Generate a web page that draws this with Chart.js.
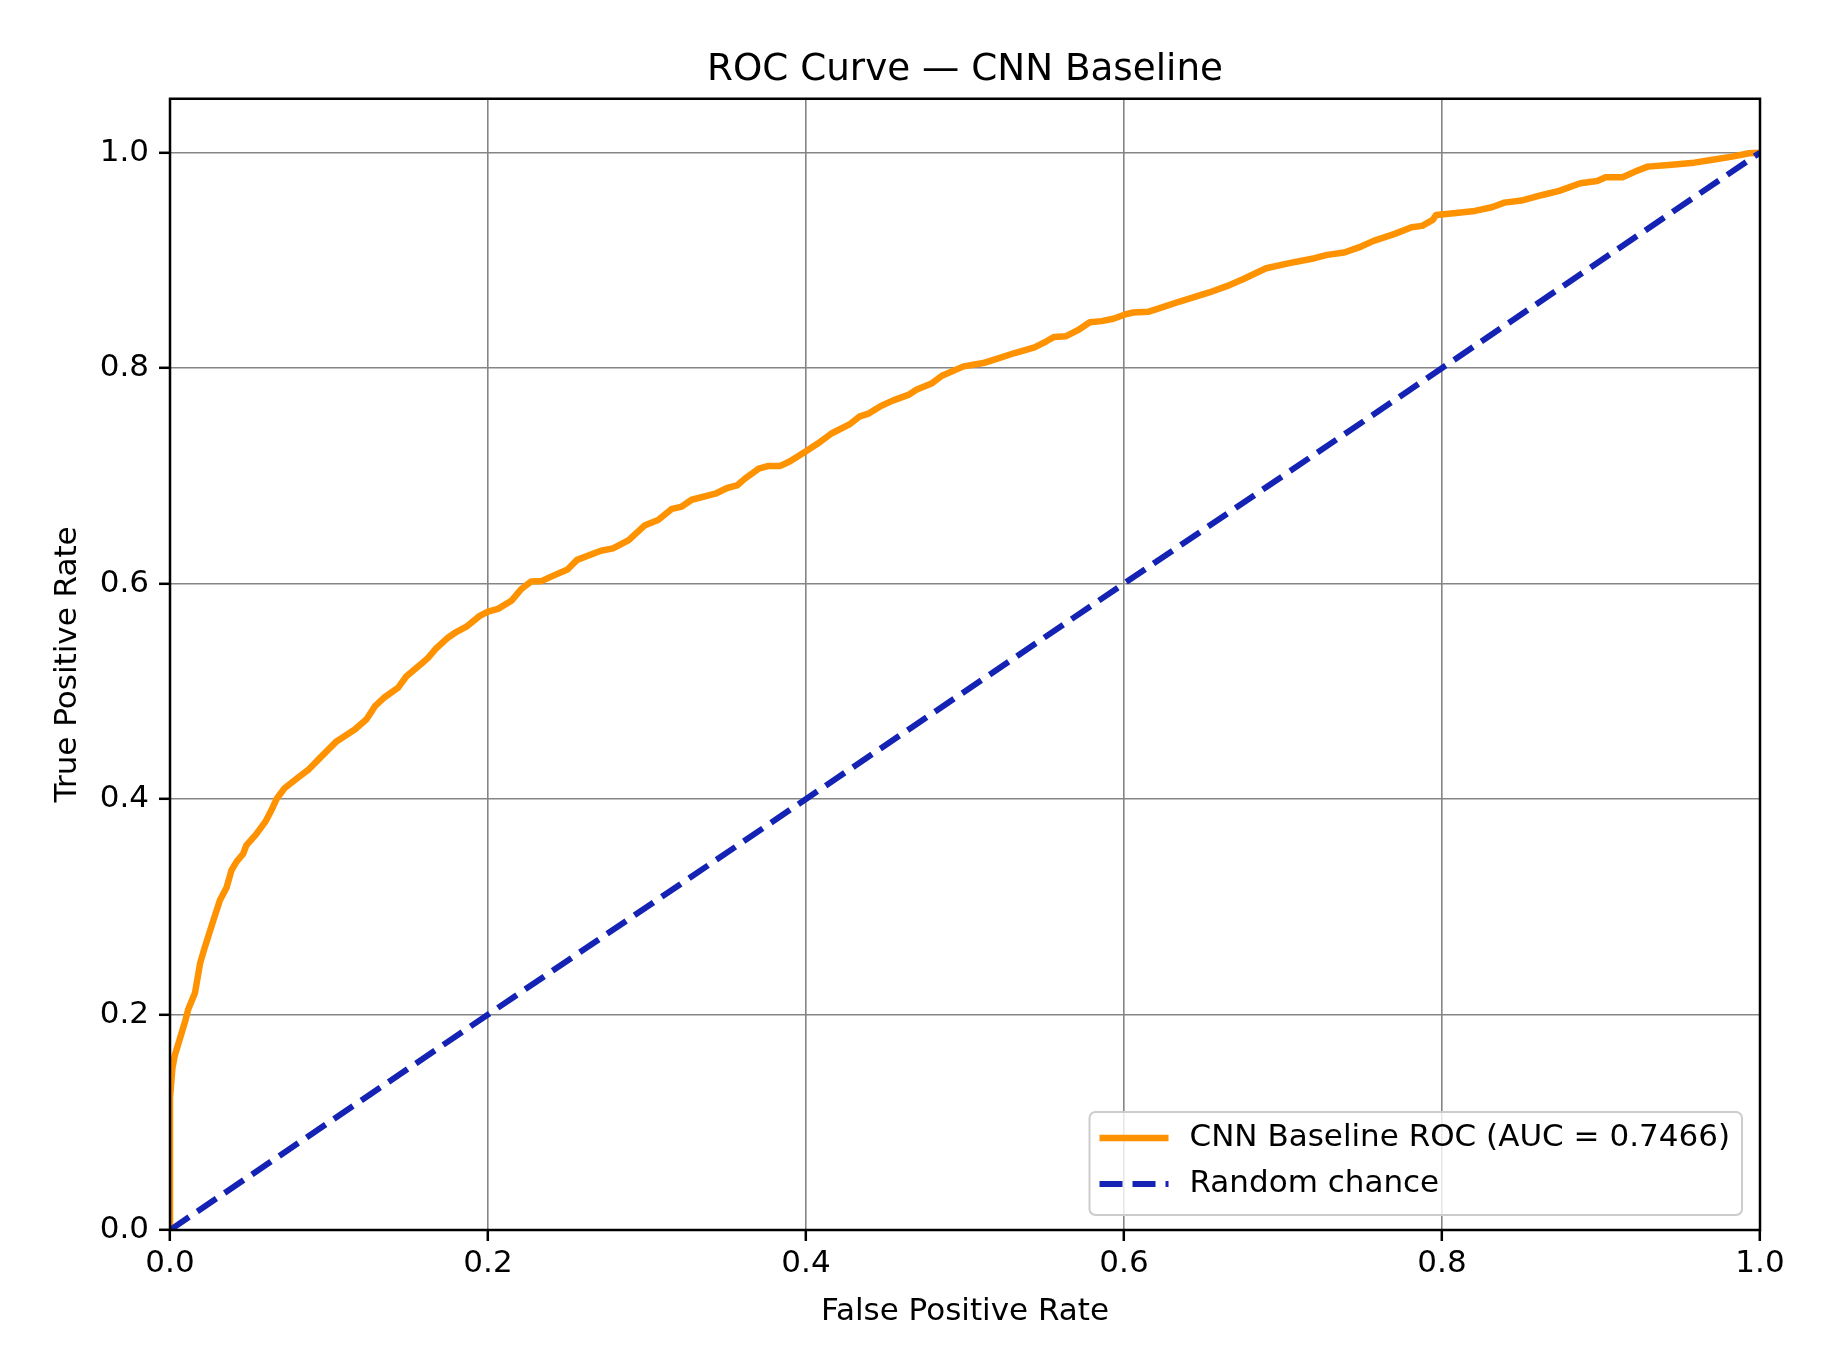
<!DOCTYPE html>
<html lang="en">
<head>
    <meta charset="UTF-8">
    <title>ROC Curve</title>
    <style>
      * {
        margin: 0;
        padding: 0;
      }
      body {
        background: white;
      }
      .chartBox {
        width: 1834px;
        height: 1358px;
      }
    </style>
</head>
<body>
    <div class="chartBox">
      <canvas id="rocChart"></canvas>
    </div>

    <script type="text/javascript" src="https://cdn.jsdelivr.net/npm/chart.js"></script>
    <script>
    // values
    const rocFpr = [
      0, 0, 0.0015, 0.003, 0.0063, 0.0094, 0.0115, 0.0157, 0.019, 0.022,
      0.0272, 0.0314, 0.0356, 0.0387, 0.0419, 0.046, 0.048, 0.054, 0.06, 0.0639,
      0.067, 0.072, 0.0806, 0.0869, 0.0942, 0.1047, 0.1162, 0.1236, 0.1288, 0.135,
      0.1435, 0.1487, 0.1592, 0.1623, 0.1675, 0.175, 0.18, 0.1864, 0.1948, 0.2,
      0.2063, 0.2147, 0.221, 0.2272, 0.234, 0.239, 0.25, 0.256, 0.271, 0.2786,
      0.2885, 0.2984, 0.307, 0.3157, 0.3219, 0.3281, 0.343, 0.3504, 0.3566, 0.3616,
      0.3703, 0.3765, 0.3839, 0.39, 0.4, 0.4074, 0.416, 0.4273, 0.4335, 0.4397,
      0.4471, 0.4545, 0.4644, 0.4694, 0.4793, 0.4855, 0.4991, 0.5115, 0.5214, 0.5313,
      0.5437, 0.5512, 0.5561, 0.5636, 0.571, 0.5785, 0.5859, 0.5933, 0.6007, 0.6058,
      0.6151, 0.6244, 0.635, 0.6536, 0.6668, 0.6748, 0.6894, 0.704, 0.7199, 0.7278,
      0.7385, 0.7491, 0.757, 0.7703, 0.7809, 0.7875, 0.7942, 0.7963, 0.8074, 0.8207,
      0.8313, 0.8393, 0.8499, 0.8631, 0.8737, 0.887, 0.8976, 0.9029, 0.9135, 0.9215,
      0.9294, 0.9427, 0.9586, 0.9692, 0.9825, 0.9931, 1.0
    ];
    const rocTpr = [
      0, 0.123, 0.15, 0.162, 0.178, 0.193, 0.205, 0.22, 0.248, 0.263,
      0.287, 0.306, 0.318, 0.334, 0.342, 0.349, 0.357, 0.367, 0.379, 0.39,
      0.4, 0.41, 0.42, 0.427, 0.438, 0.4535, 0.4645, 0.474, 0.486, 0.4945,
      0.5035, 0.514, 0.527, 0.531, 0.54, 0.55, 0.555, 0.56, 0.57, 0.574,
      0.5765, 0.584, 0.595, 0.602, 0.6025, 0.606, 0.613, 0.622, 0.6305, 0.6327,
      0.6404, 0.6538, 0.659, 0.6694, 0.6715, 0.6778, 0.6834, 0.6887, 0.6911, 0.6974,
      0.7067, 0.7092, 0.7092, 0.7135, 0.7229, 0.73, 0.7393, 0.7477, 0.7549, 0.758,
      0.7649, 0.7698, 0.7751, 0.7798, 0.786, 0.7929, 0.8016, 0.8047, 0.8093, 0.814,
      0.8193, 0.8249, 0.8289, 0.8296, 0.8352, 0.8426, 0.8436, 0.8458, 0.8498, 0.8516,
      0.8522, 0.8566, 0.8618, 0.8702, 0.8773, 0.8825, 0.8927, 0.8974, 0.902, 0.9051,
      0.9073, 0.9128, 0.9181, 0.9246, 0.9308, 0.932, 0.9376, 0.9422, 0.9437, 0.9459,
      0.9493, 0.9536, 0.9555, 0.9607, 0.9645, 0.9716, 0.9737, 0.9771, 0.9771, 0.9824,
      0.987, 0.9886, 0.9907, 0.9932, 0.9963, 0.9994, 1.0
    ];
    const chanceFpr = [0, 1];
    const chanceTpr = [0, 1];
    const xTicks = [0, 0.2, 0.4, 0.6, 0.8, 1.0];
    const yTicks = [0, 0.2, 0.4, 0.6, 0.8, 1.0];

    const rocLabel = 'CNN Baseline ROC (AUC = 0.7466)';
    const chanceLabel = 'Random chance';

    Chart.defaults.font.family = "'DejaVu Sans', sans-serif";
    Chart.defaults.color = '#000';

    // setup
    const data = {
      datasets: [{
        label: rocLabel,
        data: rocFpr.map((x, i) => ({ x: x, y: rocTpr[i] })),
        borderColor: '#ff9200',
        borderWidth: 6.5,
        pointRadius: 0,
        tension: 0,
        borderJoinStyle: 'round',
        clip: 0,
        order: 1
      }, {
        label: chanceLabel,
        data: chanceFpr.map((x, i) => ({ x: x, y: chanceTpr[i] })),
        borderColor: '#1423b4',
        borderWidth: 6,
        borderDash: [23, 10],
        pointRadius: 0,
        clip: 0,
        order: 0
      }]
    };

    // frame round the plot (drawn over the lines, like the spines)
    const frame = {
      id: 'frame',
      afterDatasetsDraw(chart) {
        const { ctx, chartArea: a } = chart;
        ctx.save();
        ctx.strokeStyle = '#000';
        ctx.lineWidth = 2.5;
        ctx.strokeRect(a.left, a.top, a.right - a.left, a.bottom - a.top);
        ctx.restore();
      }
    };

    // legend box in the lower right corner
    const legendBox = {
      id: 'legendBox',
      afterDraw(chart) {
        const { ctx, chartArea: a } = chart;
        const sets = chart.data.datasets;
        ctx.save();
        ctx.font = "31px 'DejaVu Sans'";
        let textW = 0;
        sets.forEach(ds => { textW = Math.max(textW, ctx.measureText(ds.label).width); });
        const w = 100 + textW + 12;
        const h = 103;
        const x = a.right - 18 - w;
        const y = a.bottom - 15 - h;

        ctx.beginPath();
        ctx.roundRect(x, y, w, h, 6);
        ctx.fillStyle = 'rgba(255,255,255,0.8)';
        ctx.fill();
        ctx.strokeStyle = '#cccccc';
        ctx.lineWidth = 2;
        ctx.stroke();

        sets.forEach((ds, i) => {
          const cy = y + 26 + i * 46;
          ctx.beginPath();
          ctx.setLineDash(ds.borderDash || []);
          ctx.strokeStyle = ds.borderColor;
          ctx.lineWidth = ds.borderWidth;
          ctx.lineCap = 'butt';
          ctx.moveTo(x + 10, cy);
          ctx.lineTo(x + 79, cy);
          ctx.stroke();
          ctx.setLineDash([]);
          ctx.fillStyle = '#000';
          ctx.textBaseline = 'middle';
          ctx.textAlign = 'left';
          ctx.fillText(ds.label, x + 100, cy);
        });
        ctx.restore();
      }
    };

    // config
    const config = {
      type: 'line',
      data,
      options: {
        responsive: true,
        maintainAspectRatio: false,
        devicePixelRatio: 1,
        animation: false,
        layout: {
          padding: { left: 0, right: 74, top: 0, bottom: 0 }
        },
        plugins: {
          legend: { display: false },
          tooltip: { enabled: false },
          title: {
            display: true,
            text: 'ROC Curve — CNN Baseline',
            fullSize: false,
            color: '#000',
            font: { size: 37.3, weight: 'normal' },
            padding: { top: 48, bottom: 6 }
          }
        },
        scales: {
          x: {
            type: 'linear',
            min: 0,
            max: 1,
            afterFit(scale) { scale.height = 128; },
            afterBuildTicks(scale) { scale.ticks = xTicks.map(v => ({ value: v })); },
            ticks: {
              font: { size: 31 },
              padding: 4,
              maxRotation: 0,
              callback: v => v.toFixed(1)
            },
            grid: {
              color: '#858585',
              lineWidth: 1.6,
              drawTicks: true,
              tickLength: 11,
              tickColor: '#000',
              tickWidth: 2.5
            },
            border: { display: false },
            title: {
              display: true,
              text: 'False Positive Rate',
              font: { size: 31 },
              padding: { top: 0, bottom: 27 }
            }
          },
          y: {
            type: 'linear',
            min: 0,
            max: 1.05,
            afterFit(scale) { scale.width = 170; },
            afterBuildTicks(scale) { scale.ticks = yTicks.map(v => ({ value: v })); },
            ticks: {
              font: { size: 31 },
              padding: 10,
              callback: v => v.toFixed(1)
            },
            grid: {
              color: '#858585',
              lineWidth: 1.6,
              drawTicks: true,
              tickLength: 11,
              tickColor: '#000',
              tickWidth: 2.5
            },
            border: { display: false },
            title: {
              display: true,
              text: 'True Positive Rate',
              font: { size: 31 },
              padding: { top: 49, bottom: 0 }
            }
          }
        }
      },
      plugins: [frame, legendBox]
    };

    // render init block
    const rocChart = new Chart(
      document.getElementById('rocChart'),
      config
    );
    </script>
</body>
</html>
